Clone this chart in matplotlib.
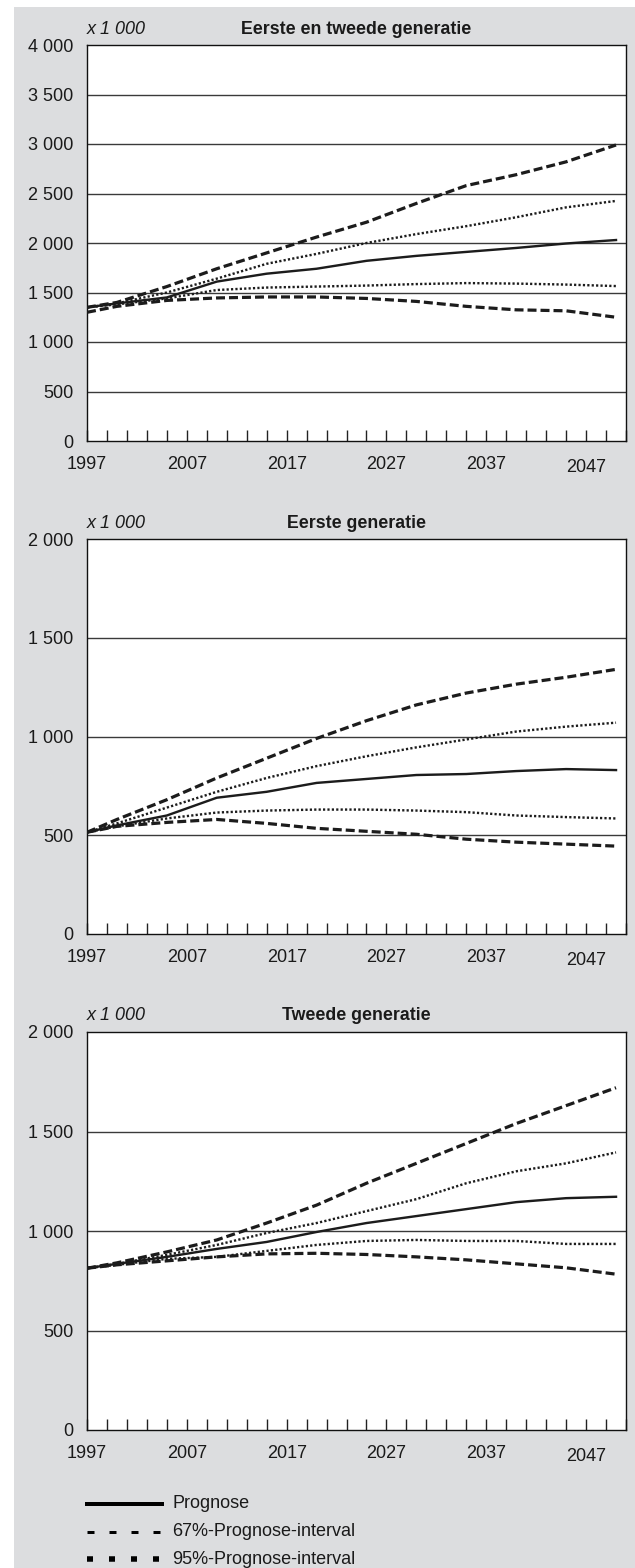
import matplotlib
matplotlib.use("Agg")
import matplotlib.pyplot as plt
from matplotlib.lines import Line2D
from matplotlib.patches import Rectangle

plt.rcParams['font.family'] = ['Liberation Sans', 'DejaVu Sans']
plt.rcParams['lines.scale_dashes'] = False

years = [1997, 2000, 2005, 2010, 2015, 2020, 2025, 2030, 2035, 2040, 2045, 2050]

titles = ["Eerste en tweede generatie", "Eerste generatie", "Tweede generatie"]
ymax = [4000, 2000, 2000]

# Panel 1: Eerste en tweede generatie
p1_prog = [1350, 1390, 1450, 1610, 1690, 1740, 1820, 1870, 1910, 1950, 1995, 2030]
p1_u67 = [1350, 1390, 1500, 1640, 1790, 1890, 2000, 2090, 2170, 2260, 2360, 2425]
p1_l67 = [1350, 1380, 1440, 1525, 1550, 1560, 1570, 1585, 1595, 1590, 1580, 1565]
p1_u95 = [1350, 1400, 1560, 1740, 1900, 2060, 2210, 2400, 2580, 2690, 2820, 2990]
p1_l95 = [1300, 1360, 1420, 1445, 1455, 1455, 1440, 1410, 1360, 1325, 1315, 1250]

# Panel 2: Eerste generatie
p2_prog = [515, 550, 600, 690, 720, 765, 785, 805, 810, 825, 835, 830]
p2_u67 = [515, 560, 640, 720, 790, 850, 900, 945, 985, 1025, 1050, 1070]
p2_l67 = [515, 545, 585, 615, 625, 630, 630, 625, 617, 600, 592, 585]
p2_u95 = [515, 580, 680, 790, 890, 990, 1080, 1160, 1220, 1265, 1300, 1340]
p2_l95 = [515, 545, 565, 580, 560, 535, 520, 505, 480, 465, 455, 445]

# Panel 3: Tweede generatie
p3_prog = [813, 835, 870, 910, 945, 995, 1040, 1075, 1110, 1145, 1165, 1172]
p3_u67 = [813, 835, 880, 930, 990, 1040, 1100, 1160, 1240, 1300, 1340, 1395]
p3_l67 = [813, 830, 860, 870, 900, 930, 950, 955, 950, 950, 935, 935]
p3_u95 = [813, 840, 895, 955, 1040, 1130, 1240, 1340, 1440, 1540, 1630, 1720]
p3_l95 = [813, 830, 850, 870, 885, 888, 882, 870, 855, 835, 815, 783]

panels = [
    (p1_prog, p1_u67, p1_l67, p1_u95, p1_l95),
    (p2_prog, p2_u67, p2_l67, p2_u95, p2_l95),
    (p3_prog, p3_u67, p3_l67, p3_u95, p3_l95),
]

legend_labels = ["Prognose", "67%-Prognose-interval", "95%-Prognose-interval"]
xtick_labels = ["1997", "2007", "2017", "2027", "2037", "2047"]

W, H = 635, 1568
fig = plt.figure(figsize=(W / 100, H / 100), dpi=100, facecolor='white')

bg = Rectangle((14 / W, 0), 1 - 14 / W, 1 - 7 / H, transform=fig.transFigure,
               facecolor='#dcdddf', edgecolor='none', zorder=-10)
fig.patches.append(bg)

tops = [45, 539, 1032]
bottoms = [441, 934, 1430]
left, right = 87, 626
col = '#1c1c1c'
px = 0.72  # points per pixel at 100 dpi

for i in range(3):
    ax = fig.add_axes([left / W, 1 - bottoms[i] / H, (right - left) / W,
                       (bottoms[i] - tops[i]) / H])
    ax.set_facecolor('white')
    prog, u67, l67, u95, l95 = panels[i]
    for s in (u95, l95):
        ax.plot(years, s, color=col, lw=3.2 * px, dashes=(9 * px, 4 * px),
                solid_capstyle='butt', dash_capstyle='butt', zorder=3)
    for s in (u67, l67):
        ax.plot(years, s, color=col, lw=2.4 * px, dashes=(2.2 * px, 2.2 * px),
                dash_capstyle='butt', zorder=3)
    ax.plot(years, prog, color=col, lw=2.4 * px, zorder=4)

    ax.set_xlim(1997, 2051)
    ax.set_ylim(0, ymax[i])
    step = 500
    yt = list(range(0, ymax[i] + 1, step))
    ax.set_yticks(yt)
    ax.set_yticklabels([f"{v:,}".replace(",", " ") for v in yt])
    for v in yt[1:-1]:
        ax.axhline(v, color='#3a3a3a', lw=1.0, zorder=1)
    ax.set_xticks(list(range(1997, 2052, 2)))
    labs = []
    for y in range(1997, 2052, 2):
        labs.append(str(y) if str(y) in xtick_labels else "")
    ax.set_xticklabels(labs)
    ax.tick_params(axis='x', direction='in', length=8, width=1, color='#222',
                   pad=11, labelsize=13, labelcolor='#1a1a1a')
    ax.tick_params(axis='y', length=0, pad=10, labelsize=13, labelcolor='#1a1a1a')
    for lab in ax.get_xticklabels():
        if lab.get_text() == "2047":
            lab.set_y(-0.008)
    for sp in ax.spines.values():
        sp.set_color('#111')
        sp.set_linewidth(1.0)
    ax.text(0.0, 1.0 + 16 / (bottoms[i] - tops[i]), "x 1 000", transform=ax.transAxes,
            ha='left', va='center', fontsize=13, style='italic', color='#1a1a1a')
    ax.text(0.5, 1.0 + 16 / (bottoms[i] - tops[i]), titles[i], transform=ax.transAxes,
            ha='center', va='center', fontsize=12.8, fontweight='bold', color='#1a1a1a')

# legend drawn manually
leg_y = [1504, 1532, 1559]
styles = [dict(lw=4.0 * px),
          dict(lw=3.0 * px, dashes=(7 * px, 15 * px), dash_capstyle='butt'),
          dict(lw=5.5 * px, dashes=(6 * px, 16 * px), dash_capstyle='butt')]
for yy, lab, st in zip(leg_y, legend_labels, styles):
    fig.add_artist(Line2D([87 / W, 162 / W], [1 - yy / H, 1 - yy / H],
                          transform=fig.transFigure, color='black', **st))
    fig.text(172 / W, 1 - yy / H, lab, ha='left', va='center', fontsize=13,
             color='#1a1a1a')

fig.savefig("out.png", dpi=100, facecolor='white')
